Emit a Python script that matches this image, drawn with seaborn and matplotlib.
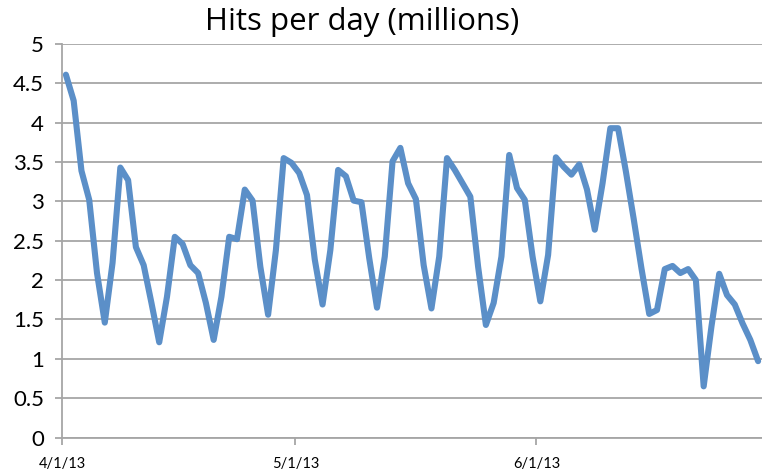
import numpy as np
import pandas as pd
import seaborn as sns
import matplotlib.pyplot as plt
import matplotlib.dates as mdates

# daily hits (millions), 4/1/13 .. 6/29/13
start_date = '2013-04-01'
hits = [4.61, 4.28, 3.39, 3.02, 2.09, 1.46, 2.22, 3.43, 3.27, 2.42,
        2.19, 1.71, 1.21, 1.79, 2.55, 2.46, 2.19, 2.09, 1.71, 1.24,
        1.79, 2.55, 2.52, 3.15, 3.01, 2.17, 1.56, 2.38, 3.55, 3.49,
        3.36, 3.08, 2.26, 1.69, 2.38, 3.40, 3.32, 3.01, 2.99, 2.28,
        1.65, 2.30, 3.51, 3.68, 3.23, 3.03, 2.19, 1.64, 2.30, 3.55,
        3.40, 3.23, 3.06, 2.17, 1.43, 1.71, 2.30, 3.59, 3.17, 3.02,
        2.30, 1.73, 2.32, 3.56, 3.44, 3.34, 3.47, 3.15, 2.64, 3.23,
        3.93, 3.93, 3.38, 2.78, 2.15, 1.57, 1.62, 2.14, 2.18, 2.09,
        2.14, 2.00, 0.65, 1.41, 2.08, 1.81, 1.69, 1.45, 1.24, 0.97]
tick_dates = ['2013-04-01', '2013-05-01', '2013-06-01']
tick_labels = ['4/1/13', '5/1/13', '6/1/13']
y_ticks = [0, 0.5, 1, 1.5, 2, 2.5, 3, 3.5, 4, 4.5, 5]

# points sit in the middle of each day, like an excel date axis
days = pd.date_range(start_date + ' 12:00', periods=len(hits), freq='D')
df = pd.DataFrame({'day': days, 'hits': hits})

sns.set_style('white')
plt.rcParams['font.family'] = ['Lato', 'DejaVu Sans']

fig = plt.figure(figsize=(7.62, 4.73), dpi=100)
ax = fig.add_axes([62 / 762, 1 - 437.5 / 473, 700 / 762, (437.5 - 44) / 473])

sns.lineplot(data=df, x='day', y='hits', ax=ax, color='#5b8fc8',
             linewidth=4.4, solid_joinstyle='round', solid_capstyle='round',
             clip_on=False)

ax.set_ylim(0, 5)
ax.set_yticks(y_ticks)
ax.set_yticklabels([f'{v:g}' for v in y_ticks])
ax.yaxis.grid(True, color='#a6a6a6', linewidth=1.3)
ax.set_axisbelow(True)

ax.set_xlim(pd.Timestamp(start_date), pd.Timestamp('2013-06-30'))
ax.set_xticks(pd.to_datetime(tick_dates))
ax.set_xticklabels(tick_labels)

for side in ['top', 'right']:
    ax.spines[side].set_visible(False)
for side in ['left', 'bottom']:
    ax.spines[side].set_color('#a6a6a6')
    ax.spines[side].set_linewidth(1.3)

ax.tick_params(axis='y', left=True, length=5, width=1.3, color='#a6a6a6',
               labelsize=16, pad=8, labelcolor='black')
ax.tick_params(axis='x', bottom=True, length=5, width=1.3, color='#a6a6a6',
               labelsize=10.5, pad=9, labelcolor='black')
ax.set_xlabel('')
ax.set_ylabel('')

fig.text(362 / 762, 1 - 22 / 473, 'Hits per day (millions)', ha='center',
         va='center', fontsize=22.5, color='black',
         family=['Open Sans', 'DejaVu Sans'])

plt.savefig('out.png', dpi=100)
